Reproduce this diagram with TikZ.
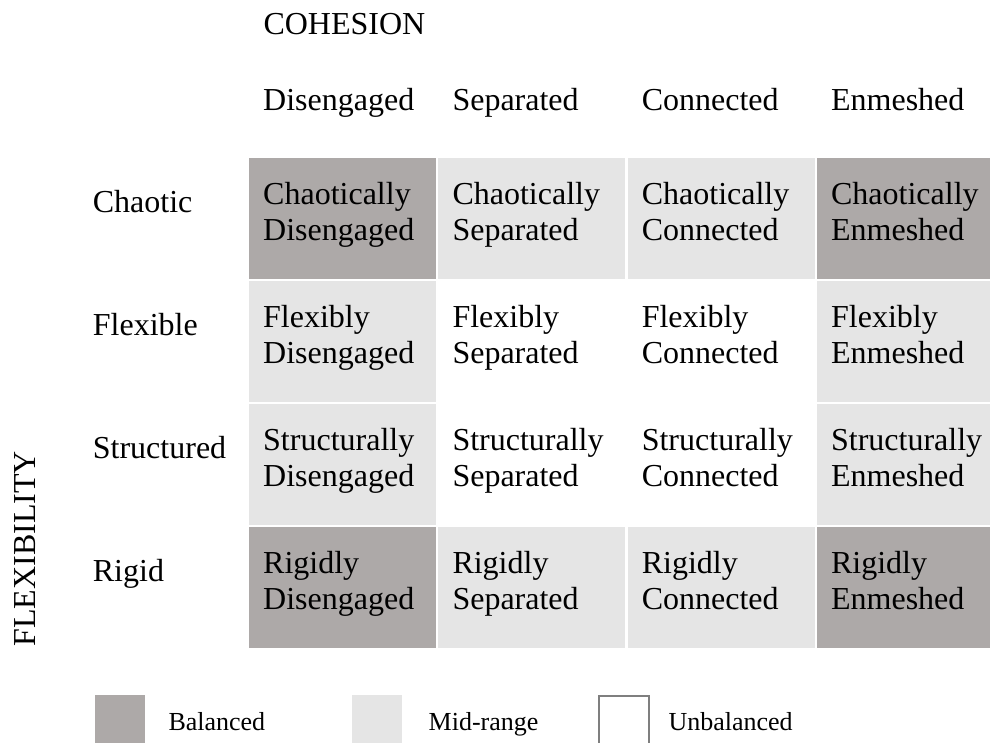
\documentclass[tikz,border=0pt]{standalone}
\usepackage{fontspec}
\setmainfont{Liberation Serif}
\usetikzlibrary{calc}

\definecolor{balanced}{RGB}{173,169,168}
\definecolor{midrange}{RGB}{229,229,229}
\definecolor{edgegray}{RGB}{127,127,127}

\tikzset{
  cellbox/.style={anchor=north west, minimum width=187pt, minimum height=120.7pt,
                  inner sep=0pt, outer sep=0pt},
  bal/.style={cellbox, fill=balanced},
  mid/.style={cellbox, fill=midrange},
  unb/.style={cellbox},
  lbl/.style={font=\fontsize{32}{37}\selectfont, inner sep=0pt, anchor=base west},
  legtext/.style={font=\fontsize{26}{30}\selectfont, inner sep=0pt, anchor=base west},
  legbox/.style={anchor=north west, minimum width=50pt, minimum height=60pt,
                 inner sep=0pt, outer sep=0pt},
}

\begin{document}
\begin{tikzpicture}[x=1pt, y=-1pt]
  \clip (0,0) rectangle (990,742);
  \fill[white] (0,0) rectangle (990,742);

  % axis titles
  \node[lbl] (cohesion) at (263.3,34.3) {COHESION};
  \node[lbl, rotate=90] (flex) at (35.7,646.7) {FLEXIBILITY};

  % column headings
  \foreach \c/\x/\w in {1/249/Disengaged, 2/438.3/Separated, 3/627.6/Connected, 4/816.9/Enmeshed}
    \node[lbl] (col-\c) at (\x+14,110) {\w};

  % row headings
  \foreach \r/\y/\w in {1/158/Chaotic, 2/281/Flexible, 3/404/Structured, 4/527.3/Rigid}
    \node[lbl] (row-\r) at (92.7,\y+54.5) {\w};

  % the 4x4 grid of family types
  \foreach \r/\y/\pre/\ka/\kb/\kc/\kd in {
      1/158/Chaotically/bal/mid/mid/bal,
      2/281/Flexibly/mid/unb/unb/mid,
      3/404/Structurally/mid/unb/unb/mid,
      4/527.3/Rigidly/bal/mid/mid/bal} {
    \foreach \c/\x/\w/\k in {1/249/Disengaged/\ka, 2/438.3/Separated/\kb,
                             3/627.6/Connected/\kc, 4/816.9/Enmeshed/\kd} {
      \node[\k] (c-\r-\c) at (\x,\y) {};
      \node[lbl] (t-\r-\c-a) at ($(c-\r-\c.north west)+(14,46)$) {\pre};
      \node[lbl] (t-\r-\c-b) at ($(c-\r-\c.north west)+(14,82.5)$) {\w};
    }
  }

  % legend
  \node[legbox, fill=balanced] (leg-bal) at (95,695) {};
  \node[legtext] (leg-bal-t) at (168.3,730.7) {Balanced};
  \node[legbox, fill=midrange] (leg-mid) at (352.3,695) {};
  \node[legtext] (leg-mid-t) at (428.5,730.7) {Mid-range};
  \node[legbox, draw=edgegray, line width=1.2pt] (leg-unb) at (599,696) {};
  \node[legtext] (leg-unb-t) at (668.3,730.7) {Unbalanced};
\end{tikzpicture}
\end{document}
